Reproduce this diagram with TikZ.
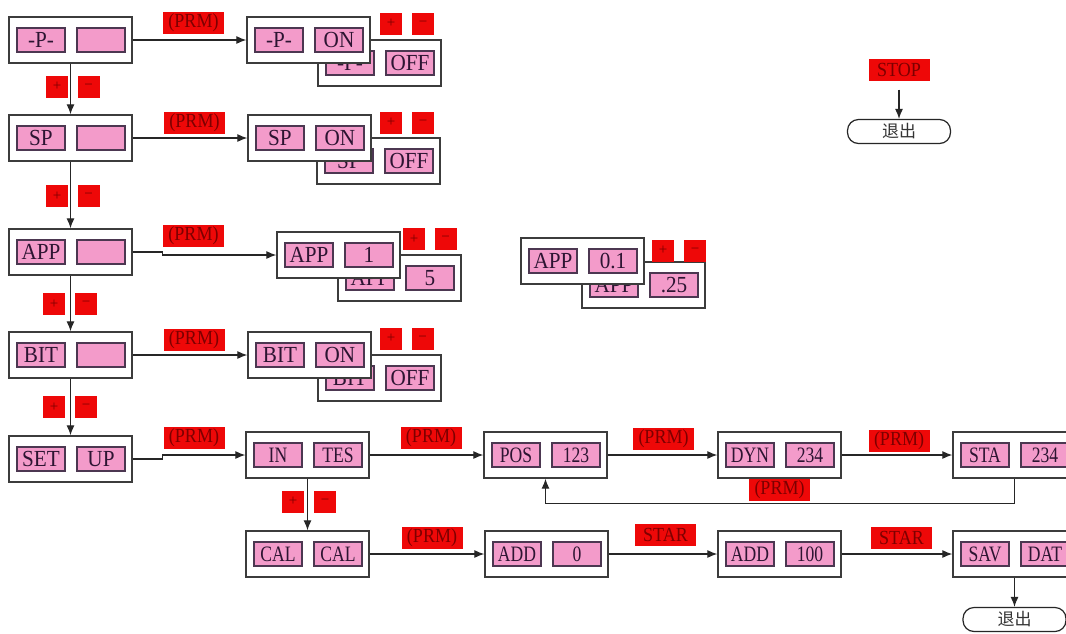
\documentclass[tikz,border=0pt]{standalone}
\usepackage{fontspec}
\setmainfont{Liberation Serif}
\newfontfamily\cjk{Noto Sans CJK SC}
\newfontfamily\lcdw[FakeStretch=0.92]{Liberation Serif}
\newfontfamily\lcdn[FakeStretch=0.8]{Liberation Serif}
\newfontfamily\keyf[FakeStretch=0.9]{Liberation Serif}
\usetikzlibrary{arrows.meta,calc}
\definecolor{pinkfill}{RGB}{243,155,202}
\definecolor{redfill}{RGB}{238,8,8}
\definecolor{ink}{RGB}{45,20,50}
\definecolor{labink}{RGB}{125,0,0}
\definecolor{edge}{RGB}{60,60,60}
\tikzset{
 outer/.style={draw=edge,line width=1.3pt,fill=white,minimum width=123pt,minimum height=46pt,inner sep=0pt},
 lcdbox/.style={draw=ink!85,line width=1.1pt,fill=pinkfill,minimum width=48pt,minimum height=24pt,inner sep=0pt,text=ink,font=\lcdw\fontsize{23}{23}\selectfont},
 lcdnarrow/.style={lcdbox,font=\lcdn\fontsize{22}{22}\selectfont},
 key/.style={fill=redfill,minimum width=61pt,minimum height=22pt,inner sep=0pt,text=labink,font=\keyf\fontsize{20}{20}\selectfont},
 pm/.style={fill=redfill,minimum width=22pt,minimum height=22pt,inner sep=0pt,text=labink,font=\fontsize{15}{15}\selectfont},
 conn/.style={draw=black!85,line width=1.2pt},
 arr/.style={conn,-{Latex[length=10pt,width=8pt]}},
 exitbox/.style={draw=black!85,line width=1.2pt,rounded corners=11pt,minimum width=103pt,minimum height=24pt,inner sep=0pt,font=\cjk\fontsize{17}{17}\selectfont,text=black!80},
}
\newcommand\screenbox[6][lcdbox]{%
 \node[outer] (#2) at ({#3+61.5},{#4+23}) {};
 \node[#1] (#2l) at ({#3+32},{#4+23}) {#5};
 \node[#1] (#2r) at ({#3+92},{#4+23}) {#6};}
\begin{document}
\begin{tikzpicture}[x=1pt,y=-1pt]
\useasboundingbox (0,0) rectangle (1066,633);
\fill[white] (0,0) rectangle (1066,633);
\clip (0,0) rectangle (1066,633);
% left column
\screenbox{P}{9}{17}{-P-}{}
\screenbox{SP}{9}{115}{SP}{}
\screenbox{APP}{9}{229}{APP}{}
\screenbox{BIT}{9}{332}{BIT}{}
\screenbox{SET}{9}{436}{SET}{UP}
% pairs
\screenbox{Poff}{318}{40}{-P-}{OFF}
\screenbox{Pon}{247}{17}{-P-}{ON}
\screenbox{SPoff}{317}{138}{SP}{OFF}
\screenbox{SPon}{248}{115}{SP}{ON}
\screenbox{APPfive}{338}{255}{APP}{5}
\screenbox{APPone}{277}{232}{APP}{1}
\screenbox{BIToff}{318}{355}{BIT}{OFF}
\screenbox{BITon}{248}{332}{BIT}{ON}
\screenbox{APPq}{582}{262}{APP}{.25}
\screenbox{APPt}{521}{238}{APP}{0.1}
% flow
\screenbox[lcdnarrow]{IN}{246}{432}{IN}{TES}
\screenbox[lcdnarrow]{CAL}{246}{531}{CAL}{CAL}
\screenbox[lcdnarrow]{POS}{484}{432}{POS}{123}
\screenbox[lcdnarrow]{DYN}{718}{432}{DYN}{234}
\screenbox[lcdnarrow]{STA}{953}{432}{STA}{234}
\screenbox[lcdnarrow]{ADDa}{485}{531}{ADD}{0}
\screenbox[lcdnarrow]{ADDb}{718}{531}{ADD}{100}
\screenbox[lcdnarrow]{SAV}{953}{531}{SAV}{DAT}
% exits
\node[exitbox] (exitA) at (899,131.5) {退出};
\node[exitbox] (exitB) at (1014.5,619.5) {退出};
% keys
\node[key] (k1) at (193.5,23) {(PRM)};
\node[key] (k2) at (194.5,122.5) {(PRM)};
\node[key] (k3) at (193.5,235.5) {(PRM)};
\node[key] (k4) at (194,339.5) {(PRM)};
\node[key] (k5) at (194,438) {(PRM)};
\node[key] (k6) at (431,438) {(PRM)};
\node[key] (k7) at (432,537.5) {(PRM)};
\node[key] (k8) at (663.5,438.5) {(PRM)};
\node[key] (k9) at (779.5,489.5) {(PRM)};
\node[key] (k10) at (899,441) {(PRM)};
\node[key] (s1) at (665.5,535) {STAR};
\node[key] (s2) at (901.5,537.5) {STAR};
\node[key] (stop) at (899,69.5) {STOP};
% plus/minus
\node[pm] (pa1) at (391,23.5) {+};
\node[pm] (ma1) at (423,23.5) {−};
\node[pm] (pb1) at (57,86.5) {+};
\node[pm] (mb1) at (88.5,86.5) {−};
\node[pm] (pa2) at (391,122.5) {+};
\node[pm] (ma2) at (423,122.5) {−};
\node[pm] (pb2) at (57,196) {+};
\node[pm] (mb2) at (88.5,196) {−};
\node[pm] (pa3) at (414,239) {+};
\node[pm] (ma3) at (445.5,239) {−};
\node[pm] (pb3) at (54,304) {+};
\node[pm] (mb3) at (86,304) {−};
\node[pm] (pa4) at (391,338.5) {+};
\node[pm] (ma4) at (422.5,338.5) {−};
\node[pm] (pb4) at (54,407) {+};
\node[pm] (mb4) at (86,407) {−};
\node[pm] (pc) at (293,501.5) {+};
\node[pm] (mc) at (325,501.5) {−};
\node[pm] (pd) at (663,250.5) {+};
\node[pm] (md) at (695,250.5) {−};
% connectors
\draw[arr] (P) -- (SP);
\draw[arr] (SP) -- (APP);
\draw[arr] (APP) -- (BIT);
\draw[arr] (BIT) -- (SET);
\draw[arr] (P) -- (Pon);
\draw[arr] (SP) -- (SPon);
\draw[arr] (APP.east) -- ++(30,0) |- (APPone.west);
\draw[arr] (BIT) -- (BITon);
\draw[arr] (SET.east) -- ++(30,0) |- (IN.west);
\draw[arr] (IN) -- (POS);
\draw[arr] (POS) -- (DYN);
\draw[arr] (DYN) -- (STA);
\draw[arr] (STA.south) -- ++(0,25) -| (POS.south);
\draw[arr] (IN) -- (CAL);
\draw[arr] (CAL) -- (ADDa);
\draw[arr] (ADDa) -- (ADDb);
\draw[arr] (ADDb) -- (SAV);
\draw[arr] (SAV.south) -- (exitB.north);
\draw[arr,shorten <=9pt] (stop.south) -- (exitA.north);
\end{tikzpicture}
\end{document}
